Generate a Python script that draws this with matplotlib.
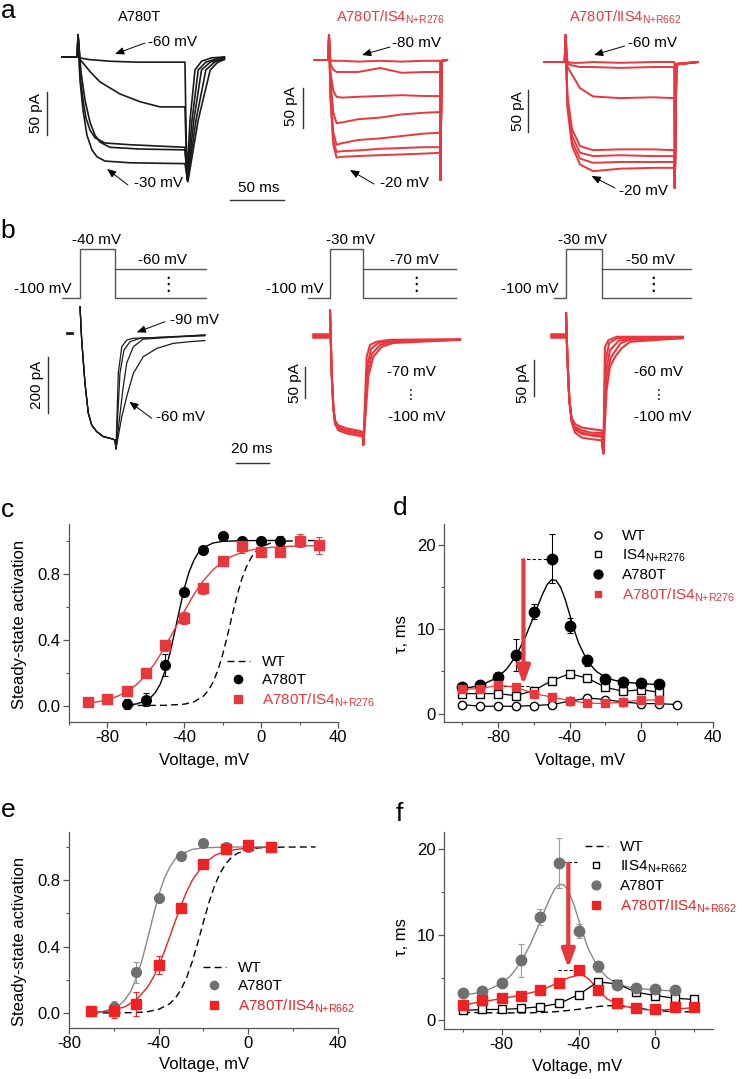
import matplotlib
matplotlib.use("Agg")
import matplotlib.pyplot as plt
from matplotlib.lines import Line2D
from matplotlib.ticker import MultipleLocator, FormatStrFormatter

plt.rcParams["font.family"] = ["Liberation Sans", "DejaVu Sans"]
plt.rcParams["mathtext.fontset"] = "custom"
plt.rcParams["mathtext.rm"] = "Liberation Sans"
plt.rcParams["mathtext.default"] = "regular"
plt.rcParams["axes.unicode_minus"] = False

RED = "#e8383d"
RED_E = "#ee2222"
GREY = "#6f6f6f"
AXC = "#555555"
BAR = "#333333"

# ---------------- a: current traces (time in ms, current in pA) ----------------
a1_traces = [  # A780T, -60 ... -30 mV
    ([0, 14, 14.7, 16, 25, 45, 70, 112.8, 114.5, 117.5, 122, 128, 137, 149],
     [0, 0, 26, -1, -3, -5, -6, -6, -140, -73, -15, -5, -1, 0]),
    ([0, 14, 14.7, 16.5, 19.3, 25.7, 34.9, 53.2, 71.6, 89.9, 112.8, 114.7, 119.3, 125, 132, 142, 149],
     [0, 0, 26, -3, -7, -17, -29, -43, -52, -58, -58, -142, -73, -15, -6, -2, 0]),
    ([0, 14, 14.7, 16.5, 19.3, 22, 25.7, 30.3, 39.4, 62.4, 112.8, 115, 121, 128, 136, 149],
     [0, 0, 26, -21, -50, -71, -85, -94, -100, -102, -105, -143, -73, -15, -6, -1]),
    ([0, 14, 14.7, 17.4, 21.1, 25.7, 30.3, 34.9, 44, 71.6, 112.8, 115, 123, 132, 140, 149],
     [0, 0, 26, -17, -50, -76, -91, -99, -105, -107, -108, -144, -73, -15, -6, -2]),
    ([0, 14, 14.7, 16.5, 19.3, 22.9, 27.5, 32.1, 39.4, 62.4, 112.8, 115.5, 125, 136, 143, 149],
     [0, 0, 26, -27, -62, -91, -108, -116, -121, -123, -124, -145, -73, -15, -6, -3]),
]
a2_t = [0, 12.5, 13.1, 14.5, 17, 20, 25, 40, 60, 80, 100, 115, 115.4, 116.5, 121.4]
a2_traces = [  # A780T/IS4 N+R276, -80 ... -20 mV
    [0, 0, 31, -1, -1, -1, -1, -2, -1, -2, -1, -1, -150, -1, 0],
    [0, 0, 31, -5, -12, -15, -15, -15, -10, -16, -15, -15, -150, -1, 0],
    [0, 0, 31, -15, -38, -46, -47, -46, -45, -44, -45, -45, -150, -1, 0],
    [0, 0, 31, -25, -65, -79, -78, -74, -72, -68, -66, -65, -150, -1, 0],
    [0, 0, 31, -40, -90, -106, -104, -100, -98, -95, -92, -91, -150, -1, 0],
    [0, 0, 31, -45, -100, -115, -114, -113, -111, -110, -109, -109, -150, -1, 0],
    [0, 0, 31, -50, -105, -122, -121, -120, -119, -118, -117, -116, -150, -1, 0],
]
a3_t = [0, 19, 19.7, 21.5, 25.7, 33, 45, 70, 100, 119.6, 120, 121.5, 141.3]
a3_traces = [  # A780T/IIS4 N+R662, -60 ... -20 mV
    [0, 0, 32, 0, -1, -1, 0, -1, 0, 0, -150, -2, 0],
    [0, 0, 32, -2, -4, -6, -6, -7, -6, -6, -150, -2, 0],
    [0, 0, 32, -6, -15, -31, -41, -43, -42, -43, -150, -3, 0],
    [0, 0, 32, -40, -80, -100, -105, -104, -104, -105, -150, -3, 0],
    [0, 0, 32, -45, -88, -108, -112, -111, -112, -112, -150, -3, 0],
    [0, 0, 32, -50, -95, -115, -120, -119, -119, -119, -150, -3, 0],
    [0, 0, 32, -55, -100, -122, -130, -127, -126, -126, -150, -3, 0],
]

# ---------------- b: tail currents (time in ms, current in pA) ----------------
b1_base = ([0, 3], [0, 0])
b1_step_t = [7.9, 8.9, 10.9, 12.9, 15, 18, 22, 26.1, 29.1, 29.7]
b1_step_i = [94, -25, -179, -286, -329, -352, -370, -376, -382, -414]
b1_tails = [  # -90, -80, -70, -60 mV
    ([31.1, 33.2, 36.2, 40.2, 83.6], [-143, -49, -25, -19, -10]),
    ([32.1, 34.5, 38.2, 44.2, 83.6], [-143, -61, -31, -19, -7]),
    ([33.8, 36.2, 40.2, 46.2, 83.6], [-204, -107, -49, -22, -7]),
    ([33.2, 36.2, 40.2, 46.2, 54.4, 64.4, 74.5, 83.6], [-299, -227, -144, -85, -55, -37, -31, -27]),
]
b2_base = ([0, 7.1], [0, 0])
b2_traces = [
    ([9.1, 10.1, 11.1, 12.1, 14.1, 19.2, 27.3, 28.9, 29.3, 31.3, 33.3, 37.4, 45.5, 87.9],
     [40, -59, -112, -133, -141, -146, -150, -152, -172, -33, -14, -9, -6, -5]),
    ([9.1, 10.1, 11.1, 12.1, 14.1, 19.2, 27.3, 28.9, 29.3, 31.8, 34.0, 38.5, 46, 87.9],
     [40, -59, -112, -135, -144, -149, -153, -154, -172, -45, -20, -11, -7, -6]),
    ([9.1, 10.1, 11.1, 12.1, 14.1, 19.2, 27.3, 28.9, 29.3, 32.0, 34.6, 39.4, 47, 87.9],
     [40, -59, -112, -137, -146, -151, -155, -156, -172, -55, -28, -14, -9, -6]),
    ([9.1, 10.1, 11.1, 12.1, 14.1, 19.2, 27.3, 28.9, 29.3, 32.3, 35.3, 40.4, 47.5, 87.9],
     [40, -59, -112, -139, -149, -154, -158, -159, -172, -64, -33, -17, -11, -6]),
]
b3_base = ([0, 6.7], [0, 0])
b3_traces = [
    ([7.9, 8.7, 9.9, 11.3, 13.3, 17.4, 22.4, 29.5, 30.5, 31.5, 33.5, 38.6, 78.6],
     [31.5, -29, -89, -114, -122, -127, -129, -131, -163, -15, -6, -1, -1]),
    ([7.9, 8.7, 9.9, 11.3, 13.3, 17.4, 22.4, 29.5, 30.5, 31.8, 34.0, 39.0, 78.6],
     [31.5, -29, -89, -116, -126, -131, -134, -135, -163, -35, -10, -3, -2]),
    ([7.9, 8.7, 9.9, 11.3, 13.3, 17.4, 22.4, 29.5, 30.5, 32.0, 34.5, 40.0, 78.6],
     [31.5, -29, -89, -118, -130, -136, -138, -140, -163, -50, -20, -6, -2]),
    ([7.9, 8.7, 9.9, 11.3, 13.3, 17.4, 22.4, 29.5, 30.5, 32.2, 35.0, 41.0, 48.0, 78.6],
     [31.5, -29, -89, -120, -134, -141, -143, -145, -163, -60, -30, -10, -4, -3]),
    ([7.9, 8.7, 9.9, 11.3, 13.3, 17.4, 22.4, 29.5, 30.5, 32.5, 34.5, 37.6, 41.6, 46.7, 78.6],
     [31.5, -29, -89, -117, -128, -134, -137, -138, -163, -75, -43, -29, -17, -8, -3]),
]
# voltage protocols: hold start, step on, step off, end (ms)
prot_times = [[-3.3, 7.9, 29.1, 84.2], [-4.5, 9.1, 29.3, 85.3], [0.4, 7.9, 29.5, 83.6]]
prot_labels = [("-40 mV", "-60 mV"), ("-30 mV", "-70 mV"), ("-30 mV", "-50 mV")]

# ---------------- c: steady-state activation ----------------
A780T_v = [-70, -60, -50, -40, -30, -20, -10, 0, 10]
A780T_ss = [0.01, 0.035, 0.245, 0.69, 0.945, 1.025, 1.0, 1.0, 1.0]
A780T_ss_err = [0.03, 0.04, 0.065, 0.02, 0.015, 0.01, 0.01, 0.015, 0.025]
A780T_fit_v = [-70, -65, -60, -57.5, -55, -52.5, -50, -47.5, -45, -42.5, -40, -37.5, -35,
               -32.5, -30, -25, -20, -10, 0, 10]
A780T_fit_y = [0.003, 0.009, 0.028, 0.048, 0.08, 0.13, 0.209, 0.315, 0.445, 0.58, 0.71, 0.81,
               0.88, 0.93, 0.957, 0.985, 0.995, 0.999, 1.0, 1.0]
IS4dbl_v = [-90, -80, -70, -60, -50, -40, -30, -20, -10, 0, 10, 20, 30]
IS4dbl_ss = [0.022, 0.04, 0.09, 0.198, 0.365, 0.53, 0.71, 0.875, 0.965, 0.93, 0.93, 1.0, 0.97]
IS4dbl_ss_err = [0.02, 0.025, 0.02, 0.025, 0.035, 0.035, 0.035, 0.02, 0.04, 0.02, 0.015, 0.04, 0.05]
IS4dbl_fit_v = [-90, -85, -80, -75, -70, -65, -60, -55, -50, -45, -40, -35, -30, -25, -20, -15,
                -10, -5, 0, 10, 20, 30]
IS4dbl_fit_y = [0.015, 0.023, 0.035, 0.055, 0.084, 0.125, 0.184, 0.261, 0.356, 0.463, 0.572,
                0.673, 0.758, 0.823, 0.871, 0.906, 0.928, 0.943, 0.953, 0.963, 0.967, 0.969]
WTc_v = [-70, -50, -40, -35, -30, -27.5, -25, -22.5, -20, -17.5, -15, -12.5, -10, -7.5, -5,
         -2.5, 0, 5, 10, 20, 30]
WTc_y = [0.0, 0.001, 0.008, 0.022, 0.057, 0.091, 0.142, 0.214, 0.31, 0.426, 0.55, 0.668, 0.769,
         0.845, 0.9, 0.937, 0.961, 0.985, 0.995, 0.999, 1.0]

# ---------------- d: time constants ----------------
tau_v = [-100, -90, -80, -70, -60, -50, -40, -30, -20, -10, 0, 10]
tau_A780T = [3.15, 3.4, 4.4, 7.0, 12.1, 18.4, 10.45, 6.3, 4.1, 3.8, 3.65, 3.5]
tau_A780T_err = [0.35, 0.2, 0.5, 1.9, 0.9, 2.9, 0.85, 0.6, 0.3, 0.3, 0.3, 0.3]
tau_fit_v = [-100, -90, -80, -75, -70, -65, -60, -57.5, -55, -52.5, -50, -47.5, -45, -42.5, -40,
             -37.5, -35, -30, -25, -20, -15, -10, 0, 10]
tau_fit_y = [2.95, 3.3, 4.3, 5.3, 6.8, 8.9, 11.5, 12.9, 14.2, 15.3, 15.9, 15.8, 15.0, 13.6, 11.8,
             10.0, 8.4, 6.2, 5.0, 4.3, 3.95, 3.75, 3.55, 3.45]
tau_IS4 = [2.37, 2.37, 2.37, 2.13, 2.72, 3.9, 4.73, 4.2, 3.12, 2.64, 2.84, 2.52]
tau_WT_v = [-100, -90, -80, -70, -60, -50, -40, -30, -20, -10, 0, 10, 20]
tau_WT = [1.07, 0.87, 0.87, 0.87, 0.95, 1.07, 1.46, 1.85, 1.66, 1.38, 1.18, 1.18, 1.07]
tau_IS4dbl = [2.9, 2.95, 3.35, 3.15, 2.37, 1.97, 1.54, 1.24, 1.2, 1.38, 1.6, 1.62]

# ---------------- e: steady-state activation, IIS4 ----------------
IIS4dbl_v = [-70, -60, -50, -40, -30, -20, -10, 0, 10]
IIS4dbl_ss = [0.01, 0.015, 0.055, 0.29, 0.63, 0.9, 0.99, 1.01, 1.0]
IIS4dbl_ss_err = [0.01, 0.045, 0.07, 0.055, 0.015, 0.015, 0.02, 0.02, 0.02]
IIS4dbl_fit_v = [-70, -65, -60, -55, -50, -45, -42.5, -40, -37.5, -35, -32.5, -30, -27.5, -25,
                 -20, -15, -10, 0, 10]
IIS4dbl_fit_y = [0.004, 0.008, 0.018, 0.038, 0.079, 0.155, 0.213, 0.284, 0.369, 0.462, 0.557,
                 0.649, 0.731, 0.8, 0.896, 0.949, 0.976, 0.995, 0.999]
WTe_v = [-70, -50, -45, -40, -35, -32.5, -30, -27.5, -25, -22.5, -20, -17.5, -15, -12.5, -10,
         -7.5, -5, 0, 5, 15, 30]
WTe_y = [0.0, 0.003, 0.008, 0.022, 0.057, 0.091, 0.142, 0.214, 0.31, 0.426, 0.55, 0.668, 0.769,
         0.845, 0.9, 0.937, 0.961, 0.985, 0.995, 0.999, 1.0]

# ---------------- f: time constants, IIS4 ----------------
tauf_v = [-100, -90, -80, -70, -60, -50, -40, -30, -20, -10, 0, 10, 20]
tau_IIS4 = [1.17, 1.28, 1.28, 1.4, 1.6, 1.98, 3.0, 4.5, 4.27, 3.3, 2.9, 2.6, 2.45]
tau_IIS4dbl = [1.86, 2.33, 2.64, 2.91, 3.5, 4.39, 5.86, 3.53, 2.06, 1.48, 1.28, 1.55, 1.6]
tau_IIS4dbl_err = [0.3, 0.15, 0.2, 0.2, 0.3, 0.25, 0.15, 0.4, 0.2, 0.15, 0.15, 0.15, 0.15]
tau_IIS4dbl_fit_v = [-100, -90, -80, -70, -60, -55, -50, -45, -40, -37.5, -35, -32.5, -30, -27.5,
                     -25, -20, -15, -10, -5, 0, 10, 20]
tau_IIS4dbl_fit_y = [1.8, 2.2, 2.55, 2.95, 3.5, 3.95, 4.5, 5.0, 5.3, 5.25, 4.9, 4.3, 3.6, 3.0,
                     2.5, 1.95, 1.6, 1.4, 1.25, 1.2, 1.3, 1.5]
tau_WTf_v = [-100, -90, -80, -70, -60, -50, -40, -30, -25, -20, -10, 0, 10, 20]
tau_WTf = [0.95, 0.9, 0.88, 0.88, 0.92, 1.05, 1.3, 1.62, 1.72, 1.72, 1.45, 1.15, 1.02, 1.0]

W, H = 742, 1079
fig = plt.figure(figsize=(W / 100, H / 100), dpi=100)


def px_axes(x0, y0, x1, y1):
    return fig.add_axes([x0 / W, 1 - y1 / H, (x1 - x0) / W, (y1 - y0) / H])


def trace_axes(box, ox, oy, px_x, px_y):
    x0, y0, x1, y1 = box
    ax = px_axes(x0, y0, x1, y1)
    ax.set_xlim((x0 - ox) / px_x, (x1 - ox) / px_x)
    ax.set_ylim((oy - y1) / px_y, (oy - y0) / px_y)
    ax.axis("off")
    return ax


def vbar(ax, x, y, length):
    t, i = ax.transData.inverted().transform((x, H - y))
    ax.plot([t, t], [i, i - length], color=BAR, lw=1, clip_on=False)


def hbar(ax, x, y, length):
    t, i = ax.transData.inverted().transform((x, H - y))
    ax.plot([t, t + length], [i, i], color=BAR, lw=1, clip_on=False)


# ---- a ----
ax = trace_axes((20, 25, 290, 210), 62, 57, 1.09, 0.86)
for t, i in a1_traces:
    ax.plot(t, i, color="#1a1a1a", lw=1.2)
vbar(ax, 47, 92, 50)
hbar(ax, 229.5, 200.5, 50)

ax = trace_axes((280, 25, 480, 210), 314.7, 60, 1.09, 0.8)
for i in a2_traces:
    ax.plot(a2_t, i, color=RED, lw=1.4)
vbar(ax, 303, 88, 50)

ax = trace_axes((500, 25, 725, 210), 544, 62, 1.09, 0.84)
for i in a3_traces:
    ax.plot(a3_t, i, color=RED, lw=1.4)
vbar(ax, 527.7, 90, 50)

# ---- b protocols ----
for (ox, times) in zip([67, 315, 553], prot_times):
    x0 = ox - 20
    axp = trace_axes((x0, 240, x0 + 230, 305), ox, 298, 1.65, 49)
    h0, on, off, end = times
    axp.plot([h0, on, on, off, off, end], [0, 0, 1, 1, 0, 0], color=AXC, lw=1)
    axp.plot([off, end], [0.6, 0.6], color=AXC, lw=1)

# ---- b traces ----
ax = trace_axes((20, 300, 290, 470), 67, 333, 1.65, 0.28)
ax.plot(*b1_base, color="#1a1a1a", lw=2)
for t, i in b1_tails:
    ax.plot(b1_step_t + t, b1_step_i + i, color="#1a1a1a", lw=0.9)
vbar(ax, 48.3, 356.7, 200)
hbar(ax, 236, 462.7, 20)

ax = trace_axes((280, 300, 480, 470), 315, 336, 1.65, 0.633)
ax.plot(*b2_base, color=RED, lw=4)
for t, i in b2_traces:
    ax.plot(t, i, color=RED, lw=1.5)
vbar(ax, 305, 366.7, 50)

ax = trace_axes((510, 300, 720, 470), 553, 336, 1.65, 0.72)
ax.plot(*b3_base, color=RED, lw=4)
for t, i in b3_traces:
    ax.plot(t, i, color=RED, lw=1.5)
vbar(ax, 534.3, 360, 50)


def style(ax, xlim, ylim, xmaj, ymaj, yfmt):
    ax.set_xlim(xlim)
    ax.set_ylim(ylim)
    ax.spines["top"].set_visible(False)
    ax.spines["right"].set_visible(False)
    for s in ("left", "bottom"):
        ax.spines[s].set_color(AXC)
        ax.spines[s].set_linewidth(0.9)
    ax.xaxis.set_major_locator(MultipleLocator(xmaj))
    ax.xaxis.set_minor_locator(MultipleLocator(xmaj / 2))
    ax.yaxis.set_major_locator(MultipleLocator(ymaj))
    ax.yaxis.set_minor_locator(MultipleLocator(ymaj / 2))
    ax.yaxis.set_major_formatter(FormatStrFormatter(yfmt))
    ax.tick_params(which="major", direction="out", length=4, width=0.9, color=AXC,
                   labelsize=12, pad=2)
    ax.tick_params(which="minor", direction="out", length=2.5, width=0.8, color=AXC)
    ax.patch.set_alpha(0)


def legend(ax, handles, labels, colors, anchor):
    lg = ax.legend(handles, labels, loc="upper left", bbox_to_anchor=anchor, frameon=False,
                   fontsize=11, handlelength=1.5, handletextpad=0.8, labelspacing=0.28,
                   borderpad=0, borderaxespad=0, markerscale=0.85)
    for txt, c in zip(lg.get_texts(), colors):
        txt.set_color(c)


eb = dict(capsize=2, elinewidth=0.8, capthick=0.8, zorder=3)
dash = (0, (5, 3))

# ---- c ----
axc = px_axes(69, 524, 338, 722)
style(axc, (-100, 40), (-0.1, 1.1), 40, 0.4, "%.1f")
axc.plot(WTc_v, WTc_y, color="k", lw=1, ls=dash)
axc.plot(A780T_fit_v, A780T_fit_y, color="k", lw=1)
axc.plot(IS4dbl_fit_v, IS4dbl_fit_y, color=RED, lw=1)
axc.errorbar(A780T_v, A780T_ss, yerr=A780T_ss_err, fmt="o", color="k", ms=7, **eb)
axc.errorbar(IS4dbl_v, IS4dbl_ss, yerr=IS4dbl_ss_err, fmt="s", color=RED, ms=6.5, **eb)
legend(axc,
       [Line2D([], [], color="k", lw=1, ls=dash),
        Line2D([], [], color="k", marker="o", ls="none", ms=7),
        Line2D([], [], color=RED, marker="s", ls="none", ms=6.5)],
       ["WT", "A780T", "A780T/IS4$_{N{+}R276}$"], ["k", "k", RED],
       ((227 - 69) / 269, (722 - 655) / 198))

# ---- d ----
axd = px_axes(444, 524, 713, 722)
style(axd, (-110, 40), (-1, 22.5), 40, 10, "%d")
axd.plot(tau_WT_v, tau_WT, "o-", color="k", mfc="white", ms=6, lw=0.9, zorder=3)
axd.errorbar(tau_v, tau_IS4, yerr=0.2, fmt="s-", color="k", mfc="white", ms=5.5, lw=0.9, **eb)
axd.plot(tau_fit_v, tau_fit_y, color="k", lw=1)
axd.errorbar(tau_v, tau_A780T, yerr=tau_A780T_err, fmt="o", color="k", ms=7.5, **eb)
axd.errorbar(tau_v, tau_IS4dbl, yerr=0.15, fmt="s-", color=RED, ms=5.5, lw=0.9, **eb)
axd.plot([-67.1, -50.6], [18.4, 18.4], color="k", lw=0.8, ls=(0, (3, 2)))
axd.plot([-80, -60.7], [3.3, 3.3], color="k", lw=0.8, ls=(0, (3, 2)))
axd.annotate("", xy=(-65.7, 3.4), xytext=(-65.7, 18.2),
             arrowprops=dict(arrowstyle="-|>,head_length=0.55,head_width=0.2", lw=3,
                             color=RED, mutation_scale=20, shrinkA=0, shrinkB=0), zorder=5)
legend(axd,
       [Line2D([], [], color="k", marker="o", mfc="white", ls="none", ms=6),
        Line2D([], [], color="k", marker="s", mfc="white", ls="none", ms=5.5),
        Line2D([], [], color="k", marker="o", ls="none", ms=7.5),
        Line2D([], [], color=RED, marker="s", ls="none", ms=5.5)],
       ["WT", "IS4$_{N{+}R276}$", "A780T", "A780T/IS4$_{N{+}R276}$"], ["k", "k", "k", RED],
       ((587 - 444) / 269, (722 - 529) / 198))

# ---- e ----
axe = px_axes(69, 832, 338, 1028)
style(axe, (-80, 40), (-0.09, 1.09), 40, 0.4, "%.1f")
axe.plot(WTe_v, WTe_y, color="k", lw=1, ls=dash)
axe.plot(A780T_fit_v, A780T_fit_y, color="#888888", lw=1)
axe.plot(IIS4dbl_fit_v, IIS4dbl_fit_y, color=RED_E, lw=1)
axe.errorbar(A780T_v, A780T_ss, yerr=A780T_ss_err, fmt="o", color=GREY, ecolor="#999999",
             ms=7, **eb)
axe.errorbar(IIS4dbl_v, IIS4dbl_ss, yerr=IIS4dbl_ss_err, fmt="s", color=RED_E, ms=6.5, **eb)
legend(axe,
       [Line2D([], [], color="k", lw=1, ls=dash),
        Line2D([], [], color=GREY, marker="o", ls="none", ms=7),
        Line2D([], [], color=RED_E, marker="s", ls="none", ms=6.5)],
       ["WT", "A780T", "A780T/IIS4$_{N{+}R662}$"], ["k", "k", RED_E],
       ((203 - 69) / 269, (1028 - 961) / 196))

# ---- f ----
axf = px_axes(444, 832, 713, 1029)
style(axf, (-110, 30), (-1, 22), 40, 10, "%d")
axf.plot(tau_WTf_v, tau_WTf, color="k", lw=1, ls=dash)
axf.errorbar(tauf_v, tau_IIS4, yerr=0.2, fmt="s-", color="k", mfc="white", ms=5.5, lw=0.9, **eb)
axf.plot(tau_fit_v, tau_fit_y, color="#888888", lw=1)
axf.errorbar(tau_v, tau_A780T, yerr=tau_A780T_err, fmt="o", color=GREY, ecolor="#999999",
             ms=7.5, **eb)
axf.plot(tau_IIS4dbl_fit_v, tau_IIS4dbl_fit_y, color=RED_E, lw=1)
axf.errorbar(tauf_v, tau_IIS4dbl, yerr=tau_IIS4dbl_err, fmt="s", color=RED_E, ms=6.5, **eb)
axf.plot([-51.3, -40.9], [18.5, 18.5], color="k", lw=0.8, ls=(0, (3, 2)))
axf.plot([-50.5, -40], [5.86, 5.86], color="k", lw=0.8, ls=(0, (3, 2)))
axf.annotate("", xy=(-45.3, 6.1), xytext=(-45.3, 18.3),
             arrowprops=dict(arrowstyle="-|>,head_length=0.55,head_width=0.2", lw=3,
                             color=RED, mutation_scale=20, shrinkA=0, shrinkB=0), zorder=5)
legend(axf,
       [Line2D([], [], color="k", lw=1, ls=dash),
        Line2D([], [], color="k", marker="s", mfc="white", ls="none", ms=5.5),
        Line2D([], [], color=GREY, marker="o", ls="none", ms=7.5),
        Line2D([], [], color=RED_E, marker="s", ls="none", ms=6.5)],
       ["WT", "IIS4$_{N{+}R662}$", "A780T", "A780T/IIS4$_{N{+}R662}$"], ["k", "k", "k", RED_E],
       ((585 - 444) / 269, (1029 - 840) / 197))

# ---- overlay for labels and arrows (pixel coordinates) ----
ov = fig.add_axes([0, 0, 1, 1])
ov.set_xlim(0, W)
ov.set_ylim(H, 0)
ov.axis("off")


def label(x, y, s, size=11, color="k", rot=0):
    ov.text(x, y, s, fontsize=size, color=color, rotation=rot, ha="center", va="center")


def arrow(x0, y0, x1, y1):
    ov.annotate("", xy=(x1, y1), xytext=(x0, y0),
                arrowprops=dict(arrowstyle="-|>,head_length=0.6,head_width=0.25", lw=0.7,
                                color="k", mutation_scale=9, shrinkA=0, shrinkB=0))


for s, (x, y) in zip("abcdef", [(8, 11), (8, 231), (8, 510), (400, 508), (8, 810), (399, 814)]):
    label(x, y, s, size=19)

label(139.6, 17, "A780T", 10.5)
label(390, 17, "A780T/IS4$_{N{+}R276}$", 10.5, RED)
label(625, 17, "A780T/IIS4$_{N{+}R662}$", 10.5, RED)
label(172, 42, "-60 mV")
label(158, 183, "-30 mV")
arrow(145, 43, 115, 54)
arrow(128, 185, 107, 169)
label(416.5, 43, "-80 mV")
label(404.6, 183, "-20 mV")
arrow(390, 47, 362, 55)
arrow(374, 184, 350, 170)
label(653, 43, "-60 mV")
label(643.6, 191, "-20 mV")
arrow(624.7, 46, 594, 55)
arrow(615, 188, 591.6, 176)
label(259, 188, "50 ms")
label(36, 113, "50 pA", rot=90)
label(291, 106, "50 pA", rot=90)
label(518, 111, "50 pA", rot=90)

for (xh, xs, xt, xd), (s_step, s_test) in zip([(42.6, 97, 163, 168), (294.5, 350, 414, 416.5),
                                               (530, 582, 650.7, 653)], prot_labels):
    label(xh, 289, "-100 mV")
    label(xs, 240, s_step)
    label(xt, 260, s_test)
    label(xd, 285, "⋮", size=14)

label(195, 320, "-90 mV")
label(180, 416.7, "-60 mV")
arrow(165, 321.7, 136.7, 332.3)
arrow(151.7, 418.3, 129.3, 401.7)
label(411.7, 371.7, "-70 mV")
label(411, 395, "⋮", size=10)
label(416.7, 416.7, "-100 mV")
label(659, 371.7, "-60 mV")
label(658.3, 395, "⋮", size=10)
label(663, 416.7, "-100 mV")
label(36.7, 385, "200 pA", rot=90)
label(295, 383.3, "50 pA", rot=90)
label(523.3, 383.3, "50 pA", rot=90)
label(252, 449.3, "20 ms")

label(20, 624, "Steady-state activation", 12, rot=90)
label(20, 941, "Steady-state activation", 12, rot=90)
label(402, 634, "τ, ms", 12, rot=90)
label(402, 937, "τ, ms", 12, rot=90)
label(204, 760, "Voltage, mV", 12)
label(580, 760, "Voltage, mV", 12)
label(204, 1065, "Voltage, mV", 12)
label(577, 1067, "Voltage, mV", 12)

fig.savefig("out.png", dpi=100)
